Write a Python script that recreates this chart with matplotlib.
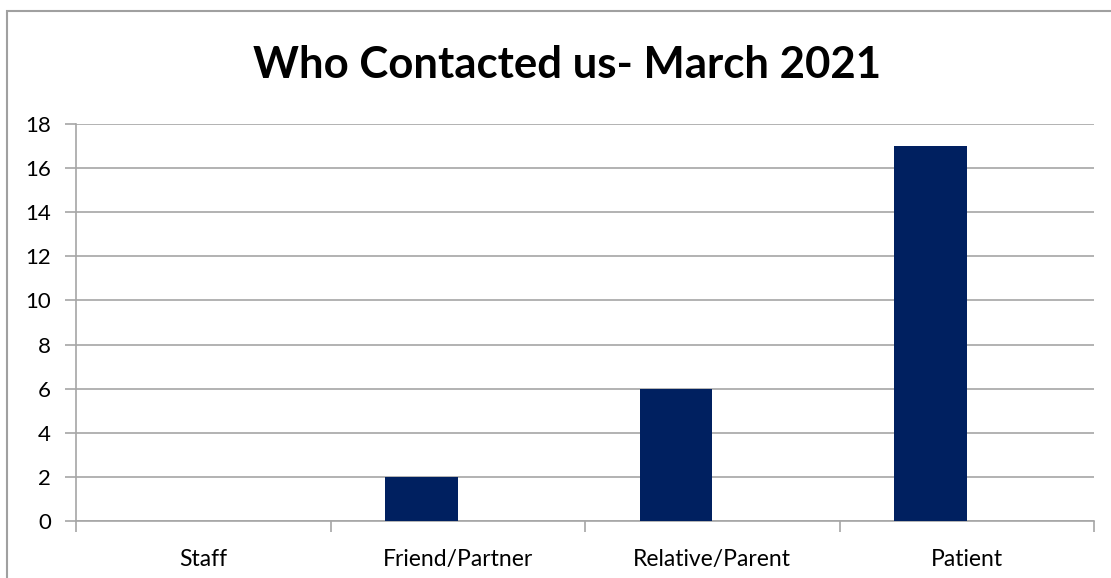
import matplotlib
matplotlib.use("Agg")
import matplotlib.pyplot as plt
from matplotlib.patches import Rectangle

categories = ["Staff", "Friend/Partner", "Relative/Parent", "Patient"]
counts = [0, 2, 6, 17]
y_ticks = [0, 2, 4, 6, 8, 10, 12, 14, 16, 18]

W, H = 1111, 578
plt.rcParams["font.family"] = ["Lato", "DejaVu Sans"]

fig = plt.figure(figsize=(W / 100, H / 100), dpi=100)
fig.patches.append(Rectangle((7 / W, -0.1), 1.2, 1 - 11 / H + 0.1, transform=fig.transFigure,
                             fill=False, edgecolor="#a0a0a0", linewidth=1.5))

ax = fig.add_axes([76 / W, 1 - 521 / H, (1094 - 76) / W, (521 - 124) / H])
x = list(range(len(categories)))
bar_w = 0.285
ax.bar([i - bar_w / 2 for i in x], counts, width=bar_w, color="#002060", zorder=3)

ax.set_xlim(-0.5, len(categories) - 0.5)
ax.set_ylim(0, 18)
ax.set_yticks(y_ticks)
ax.set_yticklabels([str(v) for v in y_ticks], fontsize=16)
ax.grid(axis="y", color="#a6a6a6", linewidth=1.2, zorder=0)
ax.tick_params(axis="y", length=8, color="#a6a6a6", width=1.2, pad=10)

ax.set_xticks(x)
ax.set_xticklabels(categories, fontsize=16.5)
ax.tick_params(axis="x", length=0, pad=20)
ax.set_xticks([i + 0.5 for i in range(-1, len(categories))], minor=True)
ax.tick_params(axis="x", which="minor", length=8, color="#a6a6a6", width=1.2)

for s in ["top", "right"]:
    ax.spines[s].set_visible(False)
ax.spines["left"].set_color("#a6a6a6")
ax.spines["bottom"].set_color("#a6a6a6")
ax.spines["left"].set_linewidth(1.2)
ax.spines["bottom"].set_linewidth(1.2)

fig.text(567 / W, 1 - 65 / H, "Who Contacted us- March 2021", ha="center", va="center",
         fontsize=31.5, fontweight="bold")

fig.savefig("out.png", dpi=100)
